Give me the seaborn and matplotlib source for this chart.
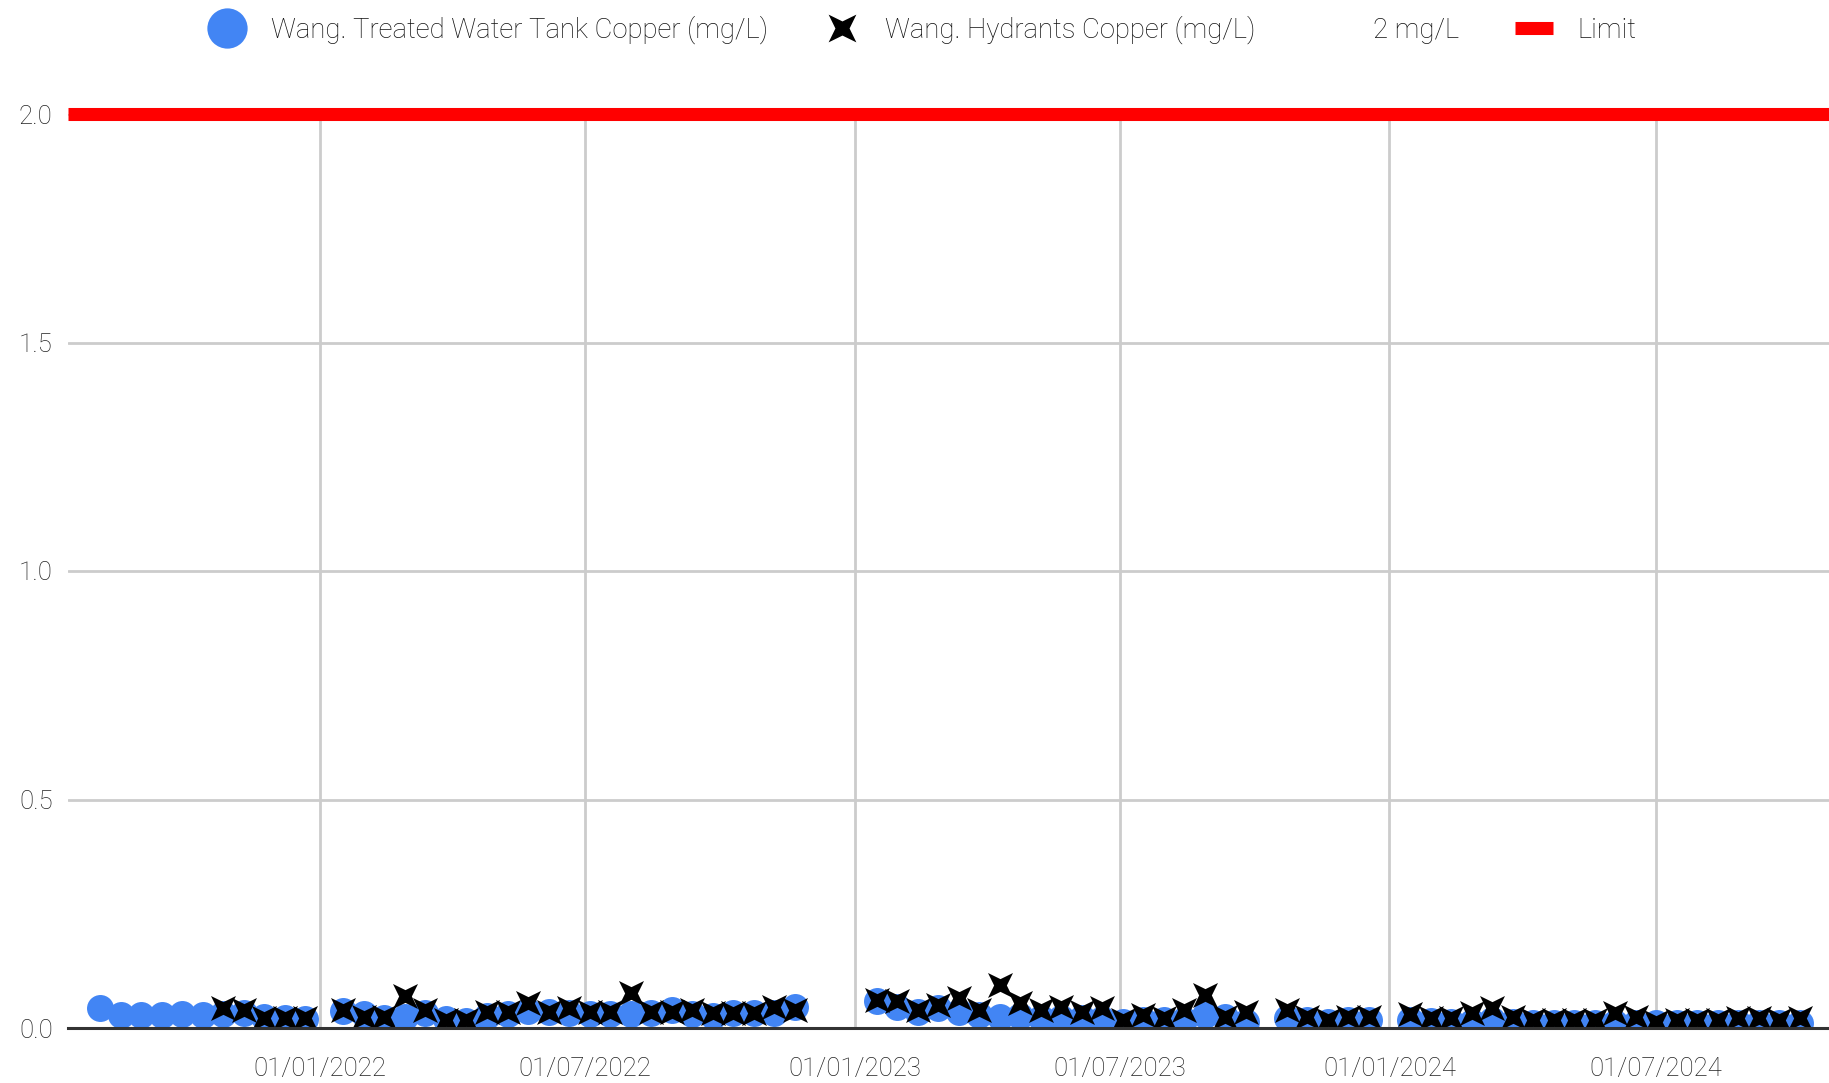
import matplotlib
matplotlib.use("Agg")
import matplotlib.pyplot as plt
import matplotlib.dates as mdates
from matplotlib.lines import Line2D
from matplotlib.path import Path
import seaborn as sns
import pandas as pd

# Copper readings (mg/L), roughly fortnightly samples
tank_dates = [
    "2021-08-04", "2021-08-18", "2021-09-01", "2021-09-15", "2021-09-29", "2021-10-13",
    "2021-10-27", "2021-11-10", "2021-11-24", "2021-12-08", "2021-12-22",
    "2022-01-17", "2022-01-31", "2022-02-14", "2022-02-28", "2022-03-14", "2022-03-28",
    "2022-04-11", "2022-04-25", "2022-05-09", "2022-05-23", "2022-06-06", "2022-06-20",
    "2022-07-04", "2022-07-18", "2022-08-01", "2022-08-15", "2022-08-29", "2022-09-12",
    "2022-09-26", "2022-10-10", "2022-10-24", "2022-11-07", "2022-11-21",
    "2023-01-16", "2023-01-30", "2023-02-13", "2023-02-27", "2023-03-13", "2023-03-27",
    "2023-04-10", "2023-04-24", "2023-05-08", "2023-05-22", "2023-06-05", "2023-06-19",
    "2023-07-03", "2023-07-17", "2023-07-31", "2023-08-14", "2023-08-28", "2023-09-11",
    "2023-09-25", "2023-10-23", "2023-11-06", "2023-11-20", "2023-12-04", "2023-12-18",
    "2024-01-15", "2024-01-29", "2024-02-12", "2024-02-26", "2024-03-11", "2024-03-25",
    "2024-04-08", "2024-04-22", "2024-05-06", "2024-05-20", "2024-06-03", "2024-06-17",
    "2024-07-01", "2024-07-15", "2024-07-29", "2024-08-12", "2024-08-26", "2024-09-09",
    "2024-09-23", "2024-10-07",
]
tank_cu = [
    0.043, 0.028, 0.028, 0.028, 0.030, 0.028, 0.030, 0.032, 0.025, 0.022, 0.020,
    0.038, 0.030, 0.022, 0.025, 0.032, 0.020, 0.016, 0.026, 0.030, 0.038, 0.036, 0.032,
    0.030, 0.030, 0.030, 0.032, 0.040, 0.030, 0.027, 0.033, 0.032, 0.032, 0.046,
    0.058, 0.047, 0.036, 0.043, 0.036, 0.028, 0.025, 0.026, 0.022, 0.022, 0.022, 0.020,
    0.014, 0.018, 0.018, 0.018, 0.028, 0.025, 0.014, 0.021, 0.018, 0.014, 0.018, 0.018,
    0.018, 0.016, 0.014, 0.014, 0.018, 0.014, 0.012, 0.012, 0.012, 0.012, 0.012, 0.012,
    0.012, 0.012, 0.012, 0.012, 0.012, 0.012, 0.012, 0.012,
]

# hydrant sampling started with the 27/10/2021 round, same days as the tank after that
hydrant_dates = tank_dates[6:]
hydrant_cu = [
    0.043, 0.039, 0.021, 0.021, 0.021,
    0.039, 0.025, 0.025, 0.071, 0.039, 0.018, 0.018, 0.036, 0.036, 0.054, 0.036, 0.043,
    0.036, 0.036, 0.077, 0.036, 0.036, 0.039, 0.032, 0.032, 0.032, 0.047, 0.039,
    0.061, 0.058, 0.039, 0.050, 0.065, 0.039, 0.094, 0.054, 0.039, 0.047, 0.036, 0.043,
    0.018, 0.028, 0.021, 0.039, 0.072, 0.025, 0.036, 0.039, 0.025, 0.018, 0.025, 0.025,
    0.030, 0.021, 0.021, 0.032, 0.043, 0.025, 0.018, 0.018, 0.018, 0.018, 0.032, 0.025,
    0.014, 0.018, 0.018, 0.018, 0.021, 0.021, 0.018, 0.021,
]

limit_mg_l = [2.0]
y_ticks = [0.0, 0.5, 1.0, 1.5, 2.0]
x_ticks = ["2022-01-01", "2022-07-01", "2023-01-01", "2023-07-01", "2024-01-01", "2024-07-01"]
legend_labels = ["Wang. Treated Water Tank Copper (mg/L)", "Wang. Hydrants Copper (mg/L)",
                 "2 mg/L", "Limit"]

BLUE = "#4285f4"
TXT = "#222222"

sns.set_style("white")
plt.rcParams["font.family"] = ["Roboto", "DejaVu Sans"]
plt.rcParams["font.weight"] = "light"
fs_tick, fs_leg = 18.5, 19.8

# four-pointed "x" like the one Google charts uses
r = 0.36
x_marker = Path([(1, 1), (0, r * 1.414), (-1, 1), (-r * 1.414, 0), (-1, -1),
                 (0, -r * 1.414), (1, -1), (r * 1.414, 0), (1, 1)], closed=True)

tank = pd.DataFrame({"date": pd.to_datetime(tank_dates), "cu": tank_cu})
hydrants = pd.DataFrame({"date": pd.to_datetime(hydrant_dates), "cu": hydrant_cu})

fig = plt.figure(figsize=(18.29, 10.83), dpi=100)
ax = fig.add_axes([68 / 1829, 1 - 1028 / 1083, 1 - 68 / 1829, 914 / 1083])

sns.scatterplot(data=tank, x="date", y="cu", ax=ax, color=BLUE, s=377,
                linewidth=0, zorder=3)
sns.scatterplot(data=hydrants, x="date", y="cu", ax=ax, color="black",
                marker=x_marker, s=324, linewidth=0, zorder=4)
for v in limit_mg_l:
    ax.axhline(v, color="#ff0000", lw=9.4, solid_capstyle="butt", zorder=5, clip_on=False)

ax.set_xlim(pd.Timestamp("2021-07-13"), pd.Timestamp("2024-10-27"))
ax.set_ylim(0, 2.0)
ax.set_yticks(y_ticks)
ax.yaxis.set_major_formatter(plt.FormatStrFormatter("%.1f"))
ax.set_xticks(pd.to_datetime(x_ticks))
ax.xaxis.set_major_formatter(mdates.DateFormatter("%d/%m/%Y"))
ax.tick_params(axis="both", length=0, labelsize=fs_tick, colors=TXT)
ax.tick_params(axis="x", pad=20.7)
ax.tick_params(axis="y", pad=11)
ax.grid(True, color="#cccccc", lw=2, zorder=0)
ax.set_axisbelow(True)
for side in ["left", "top", "right"]:
    ax.spines[side].set_visible(False)
ax.spines["bottom"].set_color("#333333")
ax.spines["bottom"].set_linewidth(2.2)
ax.spines["bottom"].set_zorder(6)
ax.set_xlabel("")
ax.set_ylabel("")

handles = [
    Line2D([], [], ls="none", marker="o", ms=29, color=BLUE, mec="none"),
    Line2D([], [], ls="none", marker=x_marker, ms=20, color="black", mew=0),
    Line2D([], [], ls="none"),
    Line2D([], [], color="#ff0000", lw=9.4, solid_capstyle="butt"),
]
fig.legend(handles, legend_labels, loc="center left",
           bbox_to_anchor=(208 / 1829, 1 - 30 / 1083), ncol=4, frameon=False,
           fontsize=fs_leg, labelcolor="#111111", handlelength=1.38, handletextpad=0.9,
           columnspacing=2.0, borderpad=0, borderaxespad=0)

fig.savefig("out.png", dpi=100)
